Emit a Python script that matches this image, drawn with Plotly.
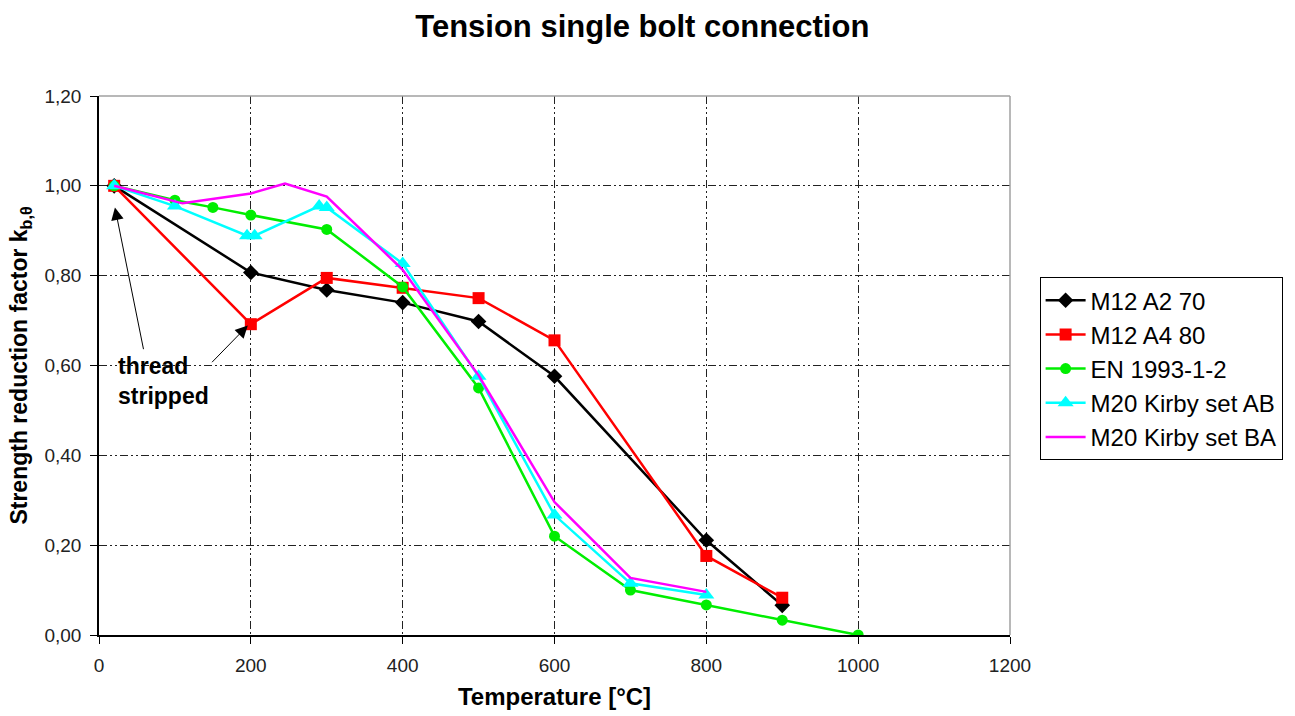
import plotly.graph_objects as go

# ---- data ----
temps_a2 = [20, 200, 300, 400, 500, 600, 800, 900]
kb_a2 = [1.0, 0.807, 0.768, 0.740, 0.698, 0.576, 0.211, 0.066]

temps_a4 = [20, 200, 300, 400, 500, 600, 800, 900]
kb_a4 = [1.0, 0.692, 0.795, 0.773, 0.750, 0.656, 0.176, 0.083]

temps_en = [20, 100, 150, 200, 300, 400, 500, 600, 700, 800, 900, 1000]
kb_en = [1.0, 0.968, 0.952, 0.935, 0.903, 0.775, 0.550, 0.220, 0.100, 0.067, 0.033, 0.0]

temps_ab = [20, 100, 195, 205, 290, 300, 400, 500, 600, 700, 800]
kb_ab = [1.0, 0.955, 0.889, 0.889, 0.955, 0.952, 0.827, 0.576, 0.267, 0.115, 0.089]

temps_ba = [20, 110, 200, 245, 300, 400, 500, 600, 700, 800]
kb_ba = [1.0, 0.961, 0.983, 1.005, 0.976, 0.813, 0.578, 0.296, 0.127, 0.096]

series_names = ["M12 A2 70", "M12 A4 80", "EN 1993-1-2", "M20 Kirby set AB", "M20 Kirby set BA"]
x_ticks = [0, 200, 400, 600, 800, 1000, 1200]
y_ticks = [0.0, 0.2, 0.4, 0.6, 0.8, 1.0, 1.2]

FONT = "Arial, 'Liberation Sans', sans-serif"
GRID_DASH = "8px,3px,2px,3px,2px,3px"

fig = go.Figure()

fig.add_trace(go.Scatter(x=temps_a2, y=kb_a2, name=series_names[0], mode="lines+markers",
                         line=dict(color="#000000", width=2.5),
                         marker=dict(symbol="diamond", size=12, color="#000000")))
fig.add_trace(go.Scatter(x=temps_a4, y=kb_a4, name=series_names[1], mode="lines+markers",
                         line=dict(color="#FF0000", width=2.5),
                         marker=dict(symbol="square", size=12, color="#FF0000")))
fig.add_trace(go.Scatter(x=temps_en, y=kb_en, name=series_names[2], mode="lines+markers",
                         line=dict(color="#00EE00", width=2.5),
                         marker=dict(symbol="circle", size=11, color="#00EE00")))
fig.add_trace(go.Scatter(x=temps_ab, y=kb_ab, name=series_names[3], mode="lines+markers",
                         line=dict(color="#00FFFF", width=2.5),
                         marker=dict(symbol="triangle-up", size=14, color="#00FFFF")))
fig.add_trace(go.Scatter(x=temps_ba, y=kb_ba, name=series_names[4], mode="lines",
                         line=dict(color="#FF00FF", width=2.5)))

# annotation text
fig.add_annotation(x=22, y=0.565, xref="x", yref="y", text="<b>thread<br>stripped</b>",
                   showarrow=False, xanchor="left", yanchor="middle", align="left",
                   font=dict(family=FONT, size=23, color="#000000"))
# arrows
fig.add_annotation(x=21, y=0.952, ax=59, ay=0.633, xref="x", yref="y", axref="x", ayref="y",
                   text="", showarrow=True, arrowhead=2, arrowsize=2.5, arrowwidth=1,
                   arrowcolor="#000000")
fig.add_annotation(x=196, y=0.689, ax=147, ay=0.604, xref="x", yref="y", axref="x", ayref="y",
                   text="", showarrow=True, arrowhead=2, arrowsize=2.5, arrowwidth=1,
                   arrowcolor="#000000")

# gray top / right border
fig.add_shape(type="line", xref="paper", yref="paper", x0=0, x1=1, y0=1, y1=1,
              line=dict(color="#A0A0A0", width=1.5), layer="above")
fig.add_shape(type="line", xref="paper", yref="paper", x0=1, x1=1, y0=0, y1=1,
              line=dict(color="#A0A0A0", width=1.5), layer="above")

fig.update_layout(
    width=1295, height=716,
    margin=dict(l=99, r=285, t=96, b=81, autoexpand=False),
    paper_bgcolor="white", plot_bgcolor="white",
    separators=", ",
    font=dict(family=FONT, color="#000000"),
    title=dict(text="<b>Tension single bolt connection</b>", x=0.496, xanchor="center",
               y=0.964, yanchor="middle", yref="container",
               font=dict(family=FONT, size=31, color="#000000")),
    legend=dict(x=1.0325, xanchor="left", y=0.664, yanchor="top",
                bordercolor="#000000", borderwidth=1, bgcolor="white",
                font=dict(family=FONT, size=24, color="#000000"),
                itemwidth=40, tracegroupgap=0),
    showlegend=True,
)

fig.update_xaxes(range=[0, 1200], tickvals=x_ticks, tickformat="d",
                 showline=True, linecolor="#000000", linewidth=1.5,
                 ticks="outside", ticklen=7, tickcolor="#000000",
                 ticklabelstandoff=5,
                 showgrid=True, gridcolor="#222222", gridwidth=1, griddash=GRID_DASH,
                 zeroline=False,
                 tickfont=dict(family=FONT, size=19, color="#222222"),
                 title=dict(text="<b>Temperature [°C]</b>", standoff=14,
                            font=dict(family=FONT, size=24, color="#000000")))
fig.update_yaxes(range=[0, 1.2], tickvals=y_ticks, tickformat=".2f",
                 showline=True, linecolor="#000000", linewidth=1.5,
                 ticks="outside", ticklen=7, tickcolor="#000000",
                 ticklabelstandoff=5,
                 showgrid=True, gridcolor="#222222", gridwidth=1, griddash=GRID_DASH,
                 zeroline=False,
                 tickfont=dict(family=FONT, size=19, color="#222222"),
                 title=dict(text="<b>Strength reduction factor k<sub>b,θ</sub></b>", standoff=10,
                            font=dict(family=FONT, size=23, color="#000000")))

fig.write_html("out.html", config={"displayModeBar": False},
               post_script="document.body.style.margin='0';")
